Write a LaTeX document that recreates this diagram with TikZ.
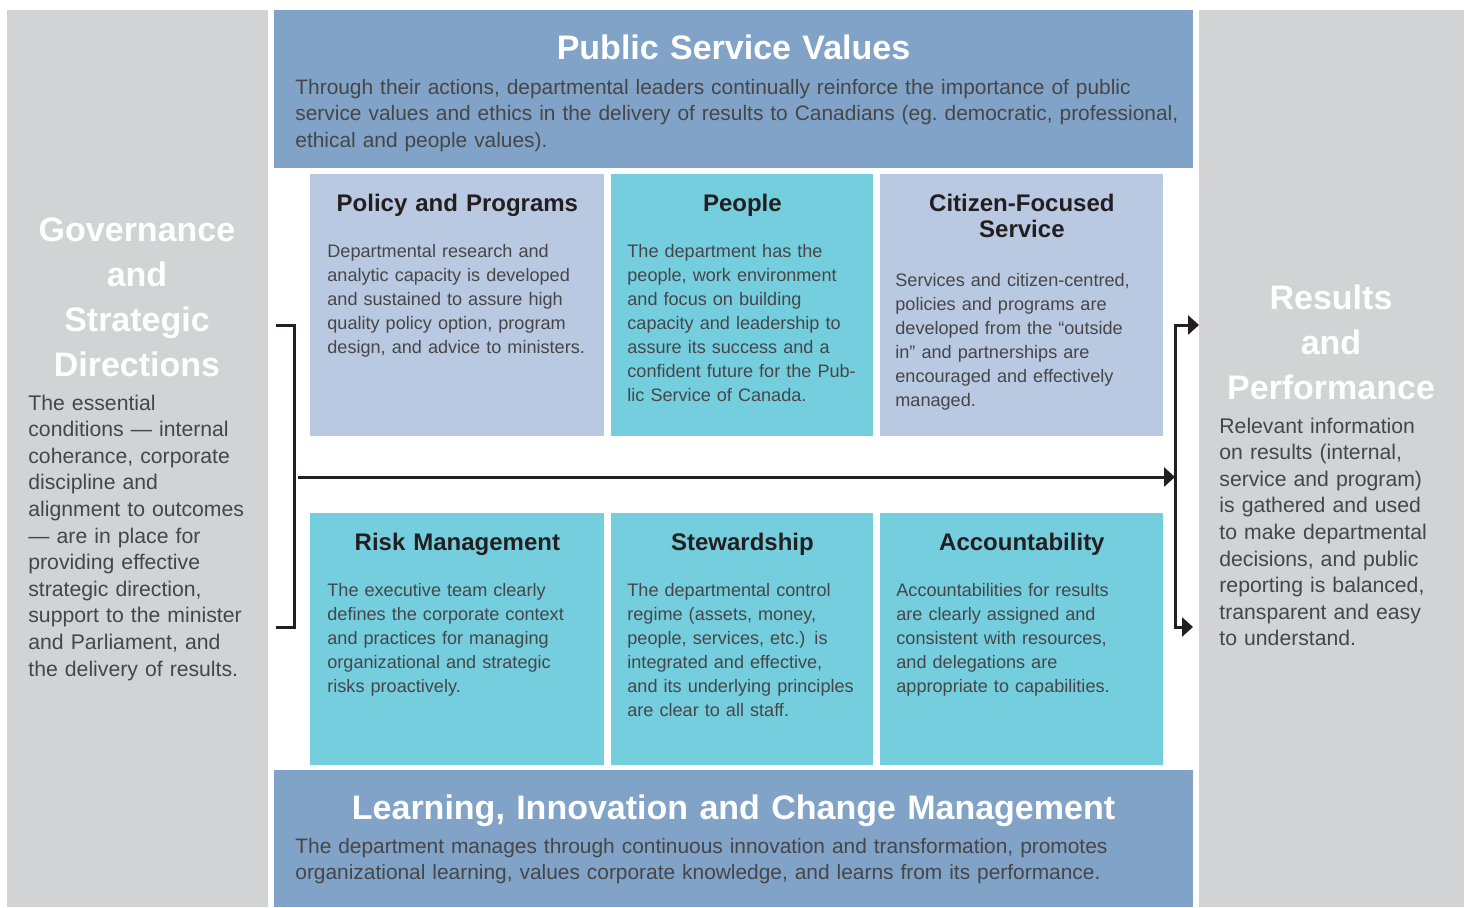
\documentclass[tikz,border=0pt]{standalone}
\usepackage{fontspec}
\setmainfont{Liberation Sans}
\usetikzlibrary{arrows.meta, positioning, calc}
\definecolor{panelgray}{RGB}{209,211,212}
\definecolor{bandblue}{RGB}{128,163,199}
\definecolor{paleblue}{RGB}{184,201,225}
\definecolor{boxteal}{RGB}{116,206,222}
\definecolor{inkdark}{RGB}{35,31,32}
\definecolor{inkgray}{RGB}{70,70,72}
\tikzset{
  panel/.style={rectangle, fill=panelgray, anchor=north west, inner sep=0pt,
    minimum width=130.5pt, minimum height=448.5pt},
  band/.style={rectangle, fill=bandblue, anchor=north west, inner sep=0pt,
    minimum width=459.5pt},
  paleblock/.style={rectangle, fill=paleblue, anchor=north west, inner sep=0pt},
  tealblock/.style={rectangle, fill=boxteal, anchor=north west, inner sep=0pt},
  headtext/.style={text=white, font=\fontsize{17}{22.5}\selectfont\bfseries,
    text width=130pt, align=center, inner sep=0pt, anchor=base},
  bandtext/.style={text=inkgray, font=\fontsize{10.45}{13.25}\selectfont,
    text width=455pt, align=left, inner sep=0pt, anchor=base west},
  sidetext/.style={text=inkgray, font=\fontsize{10.6}{13.3}\selectfont,
    text width=125pt, align=left, inner sep=0pt, anchor=base west},
  boxtitle/.style={text=inkdark, font=\fontsize{12}{13}\selectfont\bfseries,
    text width=135pt, align=center, inner sep=0pt, anchor=base},
  boxtext/.style={text=inkgray, font=\fontsize{9.05}{12}\selectfont,
    text width=135pt, align=left, inner sep=0pt, anchor=base west},
  bracket/.style={line width=1.5pt, color=inkdark, line cap=rect},
  arrow/.style={-{Triangle[length=5.5pt, width=9.5pt]}, line width=1.5pt, color=inkdark}
}

\begin{document}
\begin{tikzpicture}[x=0.5pt, y=-0.5pt]
  \useasboundingbox (0,0) rectangle (1468,907);

  % side panels and the two bands
  \node[panel] (gov) at (7,10) {};
  \node[panel, minimum width=132.5pt] (res) at (1199,10) {};
  \node[band, minimum height=79pt] (psv) at (274,10) {};
  \node[band, minimum height=68.5pt] (lic) at (274,770) {};

  % the six blocks
  \node[paleblock, minimum width=147pt, minimum height=131pt] (pp) at (310,174) {};
  \node[tealblock, minimum width=131pt, minimum height=131pt] (ppl) at (611,174) {};
  \node[paleblock, minimum width=141.5pt, minimum height=131pt] (cfs) at (880,174) {};
  \node[tealblock, minimum width=147pt, minimum height=126pt] (risk) at (310,513) {};
  \node[tealblock, minimum width=131pt, minimum height=126pt] (stew) at (611,513) {};
  \node[tealblock, minimum width=141.5pt, minimum height=126pt] (acc) at (880,513) {};

  % band texts
  \node[headtext, text width=440pt] (psvhead) at (733.5,59) {Public Service Values};
  \node[bandtext] (psvbody) at (295,94) {Through their actions, departmental leaders continually reinforce the importance of public\\
    service values and ethics in the delivery of results to Canadians (eg.\ democratic, professional,\\
    ethical and people values).};
  \node[headtext, text width=440pt] (lichead) at (733.5,819) {Learning, Innovation and Change Management};
  \node[bandtext] (licbody) at (295,853) {The department manages through continuous innovation and transformation, promotes\\
    organizational learning, values corporate knowledge, and learns from its performance.};

  % side texts
  \node[headtext] (govhead) at (137,241) {Governance\\and\\Strategic\\Directions};
  \node[sidetext] (govbody) at (28,410) {The essential\\conditions --- internal\\coherance, corporate\\discipline and\\
    alignment to outcomes\\--- are in place for\\providing effective\\strategic direction,\\
    support to the minister\\and Parliament, and\\the delivery of results.};
  \node[headtext] (reshead) at (1331,309) {Results\\and\\Performance};
  \node[sidetext] (resbody) at (1219,433) {Relevant information\\on results (internal,\\service and program)\\
    is gathered and used\\to make departmental\\decisions, and public\\reporting is balanced,\\
    transparent and easy\\to understand.};

  % block texts
  \node[boxtitle] (pptitle) at ($(pp.north)+(0,37)$) {Policy and Programs};
  \node[boxtext] (ppbody) at ($(pp.north west)+(17,83)$) {Departmental research and\\analytic capacity is developed\\
    and sustained to assure high\\quality policy option, program\\design, and advice to ministers.};
  \node[boxtitle] (ppltitle) at ($(ppl.north)+(0,37)$) {People};
  \node[boxtext] (pplbody) at ($(ppl.north west)+(16,83)$) {The department has the\\people, work environment\\
    and focus on building\\capacity and leadership to\\assure its success and a\\confident future for the Pub-\\
    lic Service of Canada.};
  \node[boxtitle] (cfstitle) at ($(cfs.north)+(0,37)$) {Citizen-Focused\\Service};
  \node[boxtext] (cfsbody) at ($(cfs.north west)+(15,112)$) {Services and citizen-centred,\\policies and programs are\\
    developed from the “outside\\in” and partnerships are\\encouraged and effectively\\managed.};
  \node[boxtitle] (risktitle) at ($(risk.north)+(0,37)$) {Risk Management};
  \node[boxtext] (riskbody) at ($(risk.north west)+(17,83)$) {The executive team clearly\\defines the corporate context\\
    and practices for managing\\organizational and strategic\\risks proactively.};
  \node[boxtitle] (stewtitle) at ($(stew.north)+(0,37)$) {Stewardship};
  \node[boxtext] (stewbody) at ($(stew.north west)+(16,83)$) {The departmental control\\regime (assets, money,\\
    people, services, etc.) is\\integrated and effective,\\and its underlying principles\\are clear to all staff.};
  \node[boxtitle] (acctitle) at ($(acc.north)+(0,37)$) {Accountability};
  \node[boxtext] (accbody) at ($(acc.north west)+(16,83)$) {Accountabilities for results\\are clearly assigned and\\
    consistent with resources,\\and delegations are\\appropriate to capabilities.};

  % brackets and arrows
  \coordinate (gtop) at (277,325);
  \coordinate (gbot) at (277,627);
  \coordinate (spine) at (294,477);
  \coordinate (rtop) at (1175,325);
  \coordinate (rbot) at (1175,627);
  \draw[bracket] (gtop) -- (gtop -| spine) -- (gbot -| spine) -- (gbot);
  \draw[arrow, shorten <=2pt] (spine) -- (spine -| rtop);
  \draw[bracket, arrow] (rbot) -- (rtop) -- (rtop -| res.west);
  \draw[arrow, line cap=rect, shorten >=3pt] (rbot) -- (rbot -| res.west);
\end{tikzpicture}
\end{document}
